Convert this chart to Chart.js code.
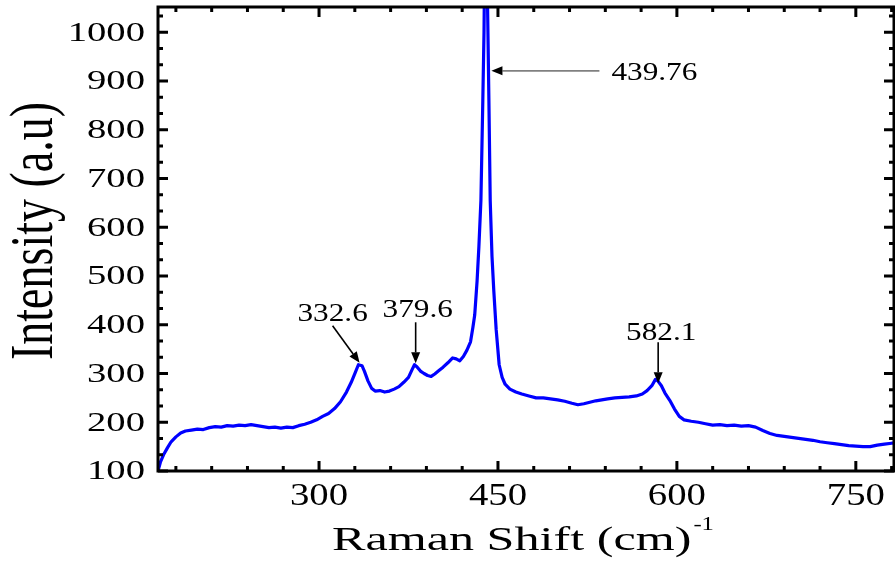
<!DOCTYPE html>
<html>
<head>
<meta charset="utf-8">
<script src="https://cdn.jsdelivr.net/npm/chart.js@4.4.1/dist/chart.umd.min.js"></script>
<style>
  html, body { margin: 0; padding: 0; background: #fff; }
  canvas { display: block; }
</style>
</head>
<body>
<canvas id="raman" width="895" height="562"></canvas>
<script>
// Raman spectrum
const ramanShift = [
  165, 167, 170, 173, 176, 180, 184, 188, 193, 198, 203, 208, 213, 218, 223, 228, 233, 238, 243, 248,
  253, 258, 263, 268, 273, 278, 283, 288, 293, 298, 303, 308, 313, 318, 323, 327, 330, 333, 336, 338,
  341, 344, 347, 351, 355, 359, 363, 367, 371, 375, 378, 380, 382, 385, 388, 391, 394, 397, 400, 404,
  408, 412, 415, 418, 421, 424, 427, 429, 430.5, 432.5, 434, 435.7, 437.3, 438.3, 439.8, 441.3, 442.4, 443.5, 445, 446.5,
  448.5, 451, 453.5, 456, 460, 465, 470, 476, 482, 488, 494, 500, 506, 512, 517, 522, 527, 532, 537, 542,
  548, 554, 560, 566, 571, 575, 579, 582, 584, 587, 590, 594, 598, 602, 606, 612, 618, 624, 630, 636,
  642, 648, 654, 660, 666, 672, 678, 684, 690, 696, 702, 708, 714, 720, 726, 732, 738, 744, 750, 756,
  762, 768, 774, 780, 782
];
const intensity = [
  100, 118, 135, 148, 160, 170, 178, 182, 184, 186, 185, 189, 191, 190, 193, 192, 194, 193, 195, 193,
  191, 189, 190, 188, 190, 189, 193, 196, 200, 205, 212, 218, 228, 242, 262, 282, 300, 318, 316, 305,
  285, 270, 264, 265, 262, 264, 268, 273, 282, 292, 308, 318, 314, 305, 300, 296, 294, 299, 305, 313,
  322, 332, 330, 326, 335, 348, 365, 395, 420, 490, 560, 655, 860, 1000, 1400, 1050, 860, 655, 540, 470,
  390, 318, 292, 278, 268, 262, 258, 254, 250, 250, 248, 246, 243, 239, 236, 238, 241, 244, 246, 248,
  250, 251, 252, 254, 258, 265, 275, 288, 285, 275, 260, 245, 227, 212, 205, 202, 200, 197, 194, 195,
  193, 194, 192, 193, 190, 183, 177, 173, 171, 169, 167, 165, 163, 160, 158, 156, 154, 152, 151, 150,
  150, 153, 155, 157, 157
];

const xTicks = [300, 450, 600, 750];
const yTicks = [100, 200, 300, 400, 500, 600, 700, 800, 900, 1000];
const peakLabels = ['332.6', '379.6', '439.76', '582.1'];
const peakShifts = [334, 381, 444.5, 584.3];
const peakHeights = [322, 321, 921, 280];

const SERIF = '"Liberation Serif", "Times New Roman", serif';

function wideText(ctx, text, x, y, sx, align, size) {
    ctx.save();
    ctx.translate(x, y);
    ctx.scale(sx, 1);
    ctx.font = size + 'px ' + SERIF;
    ctx.textAlign = align;
    ctx.fillText(text, 0, 0);
    const w = ctx.measureText(text).width * sx;
    ctx.restore();
    return w;
}

function arrow(ctx, x0, y0, x1, y1, lineColor) {
    const ang = Math.atan2(y1 - y0, x1 - x0);
    const len = 11, half = 4.5;
    ctx.save();
    ctx.strokeStyle = lineColor;
    ctx.lineWidth = 1.6;
    ctx.beginPath();
    ctx.moveTo(x0, y0);
    ctx.lineTo(x1 - Math.cos(ang) * len, y1 - Math.sin(ang) * len);
    ctx.stroke();
    ctx.fillStyle = '#000';
    ctx.beginPath();
    ctx.moveTo(x1, y1);
    ctx.lineTo(x1 - Math.cos(ang) * len - Math.sin(ang) * half, y1 - Math.sin(ang) * len + Math.cos(ang) * half);
    ctx.lineTo(x1 - Math.cos(ang) * len + Math.sin(ang) * half, y1 - Math.sin(ang) * len - Math.cos(ang) * half);
    ctx.closePath();
    ctx.fill();
    ctx.restore();
}

// frame with inward ticks on all four sides, labels, titles, peak marks
const originFrame = {
    id: 'originFrame',
    afterDraw(chart) {
        const ctx = chart.ctx;
        const area = chart.chartArea;
        const sx = chart.scales.x, sy = chart.scales.y;
        ctx.save();
        ctx.strokeStyle = '#000';
        ctx.fillStyle = '#000';
        ctx.lineWidth = 3;
        ctx.strokeRect(area.left, area.top, area.right - area.left, area.bottom - area.top);

        ctx.beginPath();
        for (let v = 180; v <= sx.max; v += 30) {
            const px = sx.getPixelForValue(v);
            const l = xTicks.indexOf(v) >= 0 ? 10 : 5;
            ctx.moveTo(px, area.bottom); ctx.lineTo(px, area.bottom - l);
            ctx.moveTo(px, area.top); ctx.lineTo(px, area.top + l);
        }
        for (let i = 0; i * 100 / 3 + 100 <= sy.max; i++) {
            const py = sy.getPixelForValue(100 + i * 100 / 3);
            const l = (i % 3 === 0) ? 10 : 5;
            ctx.moveTo(area.left, py); ctx.lineTo(area.left + l, py);
            ctx.moveTo(area.right, py); ctx.lineTo(area.right - l, py);
        }
        ctx.stroke();

        ctx.textBaseline = 'middle';
        yTicks.forEach(function (v) {
            wideText(ctx, String(v), 145, sy.getPixelForValue(v) + 1, 1.38, 'right', 28);
        });
        ctx.textBaseline = 'alphabetic';
        xTicks.forEach(function (v) {
            wideText(ctx, String(v), sx.getPixelForValue(v), 505, 1.25, 'center', 31);
        });

        // axis titles
        const tw = wideText(ctx, 'Raman Shift (cm)', 332, 550, 1.52, 'left', 33);
        wideText(ctx, '-1', 332 + tw + 2, 530, 1.3, 'left', 19);
        ctx.save();
        ctx.translate(52, 231);
        ctx.rotate(-Math.PI / 2);
        ctx.scale(1, 1.35);
        ctx.font = '46px ' + SERIF;
        ctx.textAlign = 'center';
        ctx.fillText('Intensity (a.u)', 0, 0);
        ctx.restore();

        // peak annotations
        const tips = peakShifts.map(function (s, i) {
            return [sx.getPixelForValue(s), sy.getPixelForValue(peakHeights[i])];
        });
        let t = tips[0];
        arrow(ctx, t[0] - 27, t[1] - 37, t[0], t[1], '#000');
        wideText(ctx, peakLabels[0], t[0] - 27, t[1] - 42, 1.25, 'center', 25);
        t = tips[1];
        arrow(ctx, t[0], t[1] - 41, t[0], t[1], '#000');
        wideText(ctx, peakLabels[1], t[0] + 2, t[1] - 46, 1.25, 'center', 25);
        t = tips[2];
        arrow(ctx, t[0] + 108, t[1], t[0], t[1], '#808080');
        wideText(ctx, peakLabels[2], t[0] + 120, t[1] + 9, 1.25, 'left', 25);
        t = tips[3];
        arrow(ctx, t[0], t[1] - 41, t[0], t[1], '#000');
        wideText(ctx, peakLabels[3], t[0] + 3, t[1] - 43, 1.25, 'center', 25);
        ctx.restore();
    }
};

const points = ramanShift.map(function (s, i) {
    return { x: s, y: intensity[i] };
});

const config = {
    type: 'line',
    data: {
        datasets: [{
            label: 'Raman',
            data: points,
            borderColor: '#0000ff',
            borderWidth: 3.2,
            borderJoinStyle: 'round',
            pointRadius: 0,
            tension: 0,
            fill: false
        }]
    },
    options: {
        responsive: false,
        animation: false,
        devicePixelRatio: 1,
        layout: { padding: { left: 158, top: 7, right: 1, bottom: 91 } },
        plugins: {
            legend: { display: false },
            tooltip: { enabled: false }
        },
        scales: {
            x: { type: 'linear', min: 165, max: 782, display: false },
            y: { type: 'linear', min: 100, max: 1052, display: false }
        }
    },
    plugins: [originFrame]
};

const ramanChart = new Chart(document.getElementById('raman'), config);
</script>
</body>
</html>
